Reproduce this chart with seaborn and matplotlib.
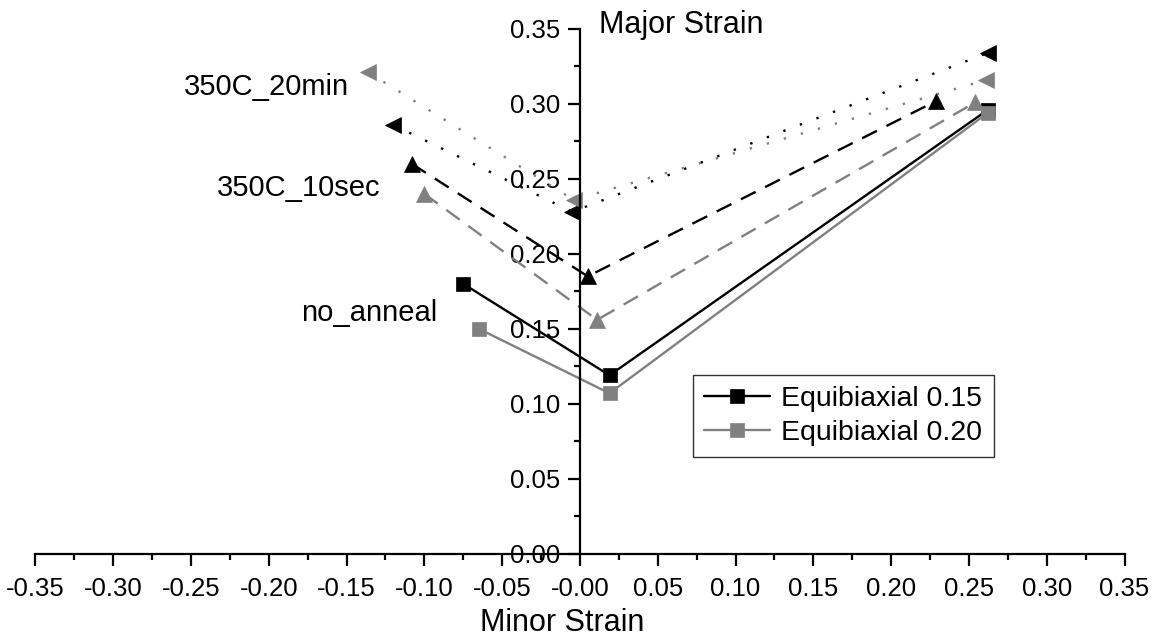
import matplotlib
matplotlib.use("Agg")
import matplotlib.pyplot as plt
import seaborn as sns
import pandas as pd
import numpy as np
from matplotlib.ticker import MultipleLocator, FormatStrFormatter

# Forming-limit style strain paths (minor strain vs major strain)
no_anneal_015_x = [-0.075, 0.019, 0.262]
no_anneal_015_y = [0.180, 0.119, 0.296]
no_anneal_020_x = [-0.065, 0.019, 0.262]
no_anneal_020_y = [0.150, 0.107, 0.294]

sec10_015_x = [-0.108, 0.005, 0.229]
sec10_015_y = [0.260, 0.185, 0.302]
sec10_020_x = [-0.100, 0.011, 0.254]
sec10_020_y = [0.240, 0.156, 0.301]

min20_015_x = [-0.120, -0.005, 0.262]
min20_015_y = [0.286, 0.228, 0.334]
min20_020_x = [-0.136, -0.004, 0.261]
min20_020_y = [0.321, 0.236, 0.316]

legend_labels = ["Equibiaxial 0.15", "Equibiaxial 0.20"]
x_ticks = np.round(np.arange(-0.35, 0.351, 0.05), 2)
y_ticks = np.round(np.arange(0.0, 0.351, 0.05), 2)

BLACK = "#000000"
GRAY = "#808080"

sns.set_theme(style="white")
plt.rcParams["font.family"] = ["Liberation Sans", "DejaVu Sans"]
plt.rcParams["text.color"] = "black"
plt.rcParams["axes.labelcolor"] = "black"
plt.rcParams["xtick.color"] = "black"
plt.rcParams["ytick.color"] = "black"

fig = plt.figure(figsize=(11.61, 6.44), dpi=100)
ax = fig.add_axes([0.0305, 0.1402, 0.9381, 0.8148])

def draw(xs, ys, color, marker, ls, ms):
    df = pd.DataFrame({"minor": xs, "major": ys})
    sns.lineplot(data=df, x="minor", y="major", ax=ax, sort=False,
                 color=color, marker=marker, markersize=ms,
                 markeredgecolor=color, markeredgewidth=0.5,
                 linewidth=1.7, linestyle=ls, estimator=None)
    return ax.lines[-1]

dash = (0, (7, 4.5))
dot = (0, (1, 6.5))

h1 = draw(no_anneal_015_x, no_anneal_015_y, BLACK, "s", "-", 9.5)
h2 = draw(no_anneal_020_x, no_anneal_020_y, GRAY, "s", "-", 9.5)
draw(sec10_015_x, sec10_015_y, BLACK, "^", dash, 12)
draw(sec10_020_x, sec10_020_y, GRAY, "^", dash, 12)
draw(min20_015_x, min20_015_y, BLACK, "<", dot, 12)
draw(min20_020_x, min20_020_y, GRAY, "<", dot, 12)

# Group labels
ax.text(-0.1485, 0.311, "350C_20min", ha="right", va="center", fontsize=21)
ax.text(-0.128, 0.2438, "350C_10sec", ha="right", va="center", fontsize=21)
ax.text(-0.092, 0.1605, "no_anneal", ha="right", va="center", fontsize=21)

ax.set_xlim(-0.35, 0.35)
ax.set_ylim(0.0, 0.35)

# Axes crossing at the origin
for s in ["top", "right"]:
    ax.spines[s].set_visible(False)
ax.spines["left"].set_position(("data", 0))
ax.spines["bottom"].set_position(("data", 0))
for s in ["left", "bottom"]:
    ax.spines[s].set_color("black")
    ax.spines[s].set_linewidth(1.6)

ax.set_xticks(x_ticks)
ax.set_yticks(y_ticks)
ax.xaxis.set_major_formatter(FormatStrFormatter("%.2f"))
ax.yaxis.set_major_formatter(FormatStrFormatter("%.2f"))
ax.xaxis.set_minor_locator(MultipleLocator(0.025))
ax.yaxis.set_minor_locator(MultipleLocator(0.025))
ax.tick_params(which="both", direction="out", color="black", width=1.6,
               bottom=True, left=True, top=False, right=False)
ax.tick_params(which="major", length=8.5, labelsize=18.5, labelcolor="black")
ax.tick_params(axis="x", which="major", pad=8)
ax.tick_params(axis="y", which="major", pad=6)
ax.tick_params(which="minor", length=4.5)

ax.set_xlabel("Minor Strain", fontsize=22, color="black", va="center")
ax.xaxis.set_label_coords(0.4835, -0.132)
ax.set_ylabel("Major Strain", fontsize=22, color="black", rotation=0,
              ha="left", va="center")
ax.yaxis.set_label_coords(0.5174, 1.0076)

leg = ax.legend([h1, h2], legend_labels, loc="upper left",
                bbox_to_anchor=(693 / 1161, 1 - 375 / 644),
                bbox_transform=fig.transFigure, fontsize=20.5,
                frameon=True, fancybox=False, edgecolor="black",
                handlelength=2.3, handletextpad=0.4, labelspacing=0.25,
                borderpad=0.4, borderaxespad=0)
leg.get_frame().set_linewidth(1.0)

ax.set_facecolor("white")
fig.patch.set_facecolor("white")
fig.savefig("out.png", dpi=100, facecolor="white")
